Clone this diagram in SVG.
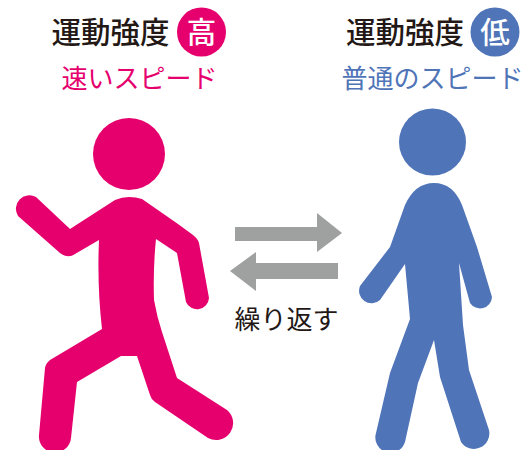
<svg xmlns="http://www.w3.org/2000/svg" width="525" height="450" viewBox="0 0 525 450">
<style>
text{font-family:"Noto Sans CJK JP","Noto Sans",sans-serif}
.h{font-size:29.500px;font-weight:500;fill:#231815;text-anchor:middle}
.b{font-size:26px;font-weight:400;text-anchor:middle}
.w{font-size:29.500px;font-weight:500;fill:#fff;text-anchor:middle}
.pink{fill:#e6006e}
.blue{fill:#4f74b8}
.gray{fill:#9fa0a0}
</style>
<rect width="525" height="450" fill="#fff"/>
<g id="node-high">
<text class="h" x="110.500" y="43">運動強度</text>
<circle class="pink" cx="201.500" cy="32" r="24.500"/>
<text class="w" x="201.500" y="43">高</text>
<text class="b pink" x="139.500" y="88">速いスピード</text>
<circle class="pink" cx="129" cy="154" r="36"/>
<path class="pink" d="M129 197Q136 197 142 199L178 224L193 235Q198 239 199 243L209 298A12 12 0 0 1 186 302L177 253L156 239Q153 268 154 300Q157 317 162 332L177 378L227 410A17 17 0 0 1 208 438L155 402Q151 399 150 395L137 356L121 356L77 382L71 438A16 16 0 0 1 39 435L45 368Q46 363 50 360L102 329Q97 285 99 240L75 254Q68 259 60 253L18 216A13.500 13.500 0 0 1 36 197L70 229L115 200Q122 197 129 197Z"/>
</g>
<g id="node-low">
<text class="h" x="405" y="43">運動強度</text>
<circle class="blue" cx="495" cy="32" r="24.500"/>
<text class="w" x="495" y="43">低</text>
<text class="b blue" x="432.500" y="88">普通のスピード</text>
<circle class="blue" cx="432.500" cy="142" r="33.500"/>
<path class="blue" d="M434 183Q453 183 462 205L477 247L492 297A12 12 0 0 1 470 303L459 263L463 325L469 370L489 430A15.500 15.500 0 0 1 461 442L440 377L434 340L418 383L405 442A15 15 0 0 1 376 433L390 373L410 319L405 264L380 300A12.500 12.500 0 0 1 360 286L390 247L405 205Q415 183 434 183Z"/>
</g>
<g id="connectors">
<path class="gray" d="M235 227H317V213L342 233L317 252V241H235Z"/>
<path class="gray" d="M338 263H256V252L230 271L256 291V279H338Z"/>
</g>
<g id="label-repeat">
<text class="b" x="286.500" y="329" fill="#231815">繰り返す</text>
</g>
</svg>
